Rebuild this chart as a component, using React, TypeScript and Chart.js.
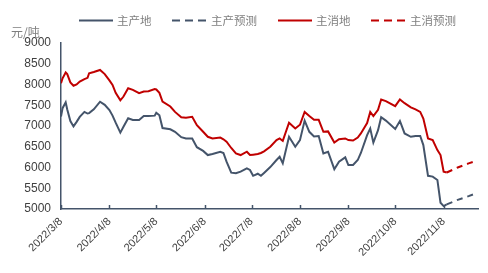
import React, { useEffect, useRef } from "react";
import { Chart, registerables } from "chart.js";

Chart.register(...registerables);

const dates = [
  "2022/3/8", "2022/3/9", "2022/3/11", "2022/3/12", "2022/3/14", "2022/3/16", "2022/3/18", "2022/3/20",
  "2022/3/23", "2022/3/25", "2022/3/26", "2022/3/29", "2022/4/2", "2022/4/5", "2022/4/8", "2022/4/10",
  "2022/4/12", "2022/4/15", "2022/4/17", "2022/4/20", "2022/4/23", "2022/4/27", "2022/4/30", "2022/5/3",
  "2022/5/7", "2022/5/8", "2022/5/10", "2022/5/12", "2022/5/17", "2022/5/20", "2022/5/24", "2022/5/27",
  "2022/5/31", "2022/6/3", "2022/6/7", "2022/6/10", "2022/6/13", "2022/6/18", "2022/6/20", "2022/6/22",
  "2022/6/25", "2022/6/28", "2022/7/1", "2022/7/5", "2022/7/7", "2022/7/9", "2022/7/12", "2022/7/14",
  "2022/7/16", "2022/7/20", "2022/7/24", "2022/7/26", "2022/7/28", "2022/8/1", "2022/8/5", "2022/8/8",
  "2022/8/11", "2022/8/14", "2022/8/17", "2022/8/20", "2022/8/23", "2022/8/26", "2022/8/30", "2022/9/2",
  "2022/9/6", "2022/9/8", "2022/9/11", "2022/9/14", "2022/9/16", "2022/9/20", "2022/9/22", "2022/9/24",
  "2022/9/27", "2022/9/29", "2022/10/2", "2022/10/8", "2022/10/11", "2022/10/14", "2022/10/18", "2022/10/21",
  "2022/10/24", "2022/10/26", "2022/10/29", "2022/11/1", "2022/11/4", "2022/11/6", "2022/11/8", "2022/11/10",
];

const producerPrices = [
  7230, 7430, 7570, 7400, 7120, 6990, 7100, 7220,
  7340, 7300, 7310, 7400, 7585, 7510, 7385, 7250,
  7080, 6840, 6980, 7185, 7145, 7145, 7240, 7240,
  7250, 7320, 7260, 6950, 6920, 6860, 6730, 6700,
  6700, 6490, 6400, 6300, 6325, 6380, 6350, 6140,
  5875, 5860, 5900, 5980, 5940, 5800, 5850, 5800,
  5870, 6010, 6180, 6260, 6100, 6740, 6500, 6660,
  7130, 6860, 6750, 6760, 6340, 6380, 5960, 6140,
  6245, 6060, 6060, 6180, 6350, 6780, 6940, 6600,
  6900, 7210, 7130, 6930, 7120, 6820, 6740, 6760,
  6760, 6540, 5800, 5780, 5700, 5150, 5070, 5110,
];

const consumerPrices = [
  8030, 8150, 8290, 8250, 8050, 7970, 8000, 8070,
  8130, 8160, 8270, 8300, 8350, 8250, 8100, 7990,
  7800, 7620, 7710, 7910, 7870, 7790, 7830, 7840,
  7890, 7880, 7800, 7590, 7470, 7340, 7210, 7200,
  7220, 7020, 6860, 6740, 6700, 6720, 6680, 6620,
  6470, 6340, 6300, 6380, 6300, 6310, 6325, 6350,
  6390, 6500, 6660, 6700, 6640, 7080, 6940, 7030,
  7340, 7240, 7150, 7150, 6860, 6870, 6600, 6680,
  6700, 6660, 6650, 6720, 6820, 7070, 7340, 7240,
  7390, 7640, 7600, 7480, 7640, 7550, 7450, 7400,
  7340, 7180, 6700, 6660, 6420, 6300, 5900, 5880,
];

const forecastDates = ["2022/11/10", "2022/11/17", "2022/11/24", "2022/11/29"];
const producerForecast = [5110, 5220, 5310, 5380];
const consumerForecast = [5880, 6000, 6100, 6160];

const tickDates = [
  "2022/3/8", "2022/4/8", "2022/5/8", "2022/6/8", "2022/7/8",
  "2022/8/8", "2022/9/8", "2022/10/8", "2022/11/8",
];
const axisEndDate = "2022/11/30";

const seriesNames = ["主产地", "主产预测", "主消地", "主消预测"];
const unitLabel = "元/吨";

const GRAY = "#44546A";
const RED = "#C00000";
const FONT = "'Liberation Sans', Arial, 'Noto Sans CJK SC', sans-serif";
const CJK = "'Noto Sans CJK SC', 'Liberation Sans', sans-serif";

function dayIndex(s: string): number {
  const [y, m, d] = s.split("/").map(Number);
  return Math.round((Date.UTC(y, m - 1, d) - Date.UTC(2022, 2, 8)) / 86400000);
}

function toPoints(ds: string[], vs: number[]) {
  return ds.map((d, i) => ({ x: dayIndex(d), y: vs[i] }));
}

const legendPlugin = {
  id: "customLegend",
  afterDraw(chart: any) {
    const ctx = chart.ctx;
    const items = [
      { color: GRAY, dash: [], lx: 79, tx: 117 },
      { color: GRAY, dash: [8, 5], lx: 172, tx: 211 },
      { color: RED, dash: [], lx: 278, tx: 316 },
      { color: RED, dash: [8, 5], lx: 371, tx: 410 },
    ];
    const y = 20.5;
    ctx.save();
    items.forEach((it, i) => {
      ctx.beginPath();
      ctx.setLineDash(it.dash);
      ctx.strokeStyle = it.color;
      ctx.lineWidth = 2;
      ctx.moveTo(it.lx, y);
      ctx.lineTo(it.lx + 34, y);
      ctx.stroke();
      ctx.setLineDash([]);
      ctx.fillStyle = "#7F7F7F";
      ctx.font = `11.5px ${CJK}`;
      ctx.textBaseline = "middle";
      ctx.textAlign = "left";
      ctx.fillText(seriesNames[i], it.tx, y + 0.5);
    });
    ctx.fillStyle = "#7F7F7F";
    ctx.font = `12px ${CJK}`;
    ctx.textBaseline = "middle";
    ctx.fillText(unitLabel, 11, 32);
    const xs = chart.scales.x;
    const bottom = chart.chartArea.bottom;
    ctx.strokeStyle = GRAY;
    ctx.lineWidth = 1.5;
    tickDates.forEach((d) => {
      const px = Math.round(xs.getPixelForValue(dayIndex(d))) + 0.5;
      ctx.beginPath();
      ctx.moveTo(px, bottom);
      ctx.lineTo(px, bottom - 4);
      ctx.stroke();
    });
    ctx.restore();
  },
};

export default function App() {
  const ref = useRef<HTMLCanvasElement | null>(null);
  useEffect(() => {
    if (!ref.current) return;
    const chart = new Chart(ref.current, {
      type: "line",
      data: {
        datasets: [
          {
            label: seriesNames[0],
            data: toPoints(dates, producerPrices),
            borderColor: GRAY,
            borderWidth: 2,
            pointRadius: 0,
            tension: 0,
          },
          {
            label: seriesNames[1],
            data: toPoints(forecastDates, producerForecast),
            borderColor: GRAY,
            borderWidth: 2,
            borderDash: [6, 5],
            pointRadius: 0,
            tension: 0,
          },
          {
            label: seriesNames[2],
            data: toPoints(dates, consumerPrices),
            borderColor: RED,
            borderWidth: 2,
            pointRadius: 0,
            tension: 0,
          },
          {
            label: seriesNames[3],
            data: toPoints(forecastDates, consumerForecast),
            borderColor: RED,
            borderWidth: 2,
            borderDash: [6, 5],
            pointRadius: 0,
            tension: 0,
          },
        ],
      },
      options: {
        responsive: false,
        animation: false,
        devicePixelRatio: 1,
        layout: { padding: { top: 43, right: 10, left: 0, bottom: 0 } },
        plugins: { legend: { display: false }, tooltip: { enabled: false } },
        scales: {
          x: {
            type: "linear",
            min: 0,
            max: dayIndex(axisEndDate),
            afterBuildTicks: (scale: any) => {
              scale.ticks = tickDates.map((d) => ({ value: dayIndex(d) }));
            },
            afterFit: (scale: any) => {
              scale.height = 64;
            },
            grid: { drawOnChartArea: false, drawTicks: false },
            border: { color: GRAY, width: 1.5 },
            ticks: {
              autoSkip: false,
              minRotation: 45,
              maxRotation: 45,
              padding: 6,
              color: "#404040",
              font: { family: FONT, size: 11 },
              callback: (v: any) => {
                const d = tickDates.find((t) => dayIndex(t) === v);
                return d || "";
              },
            },
          },
          y: {
            min: 5000,
            max: 9000,
            afterFit: (scale: any) => {
              scale.width = 61;
            },
            grid: { drawOnChartArea: false, drawTicks: false },
            border: { color: GRAY, width: 1.5 },
            ticks: {
              stepSize: 500,
              padding: 10,
              color: "#404040",
              font: { family: FONT, size: 12 },
              callback: (v: any) => String(v),
            },
          },
        },
      },
      plugins: [legendPlugin],
    } as any);
    return () => chart.destroy();
  }, []);
  return (
    <div style={{ position: "absolute", left: 0, top: 0, width: 488, height: 273, background: "#fff" }}>
      <canvas ref={ref} width={488} height={273} style={{ width: 488, height: 273 }} />
    </div>
  );
}
